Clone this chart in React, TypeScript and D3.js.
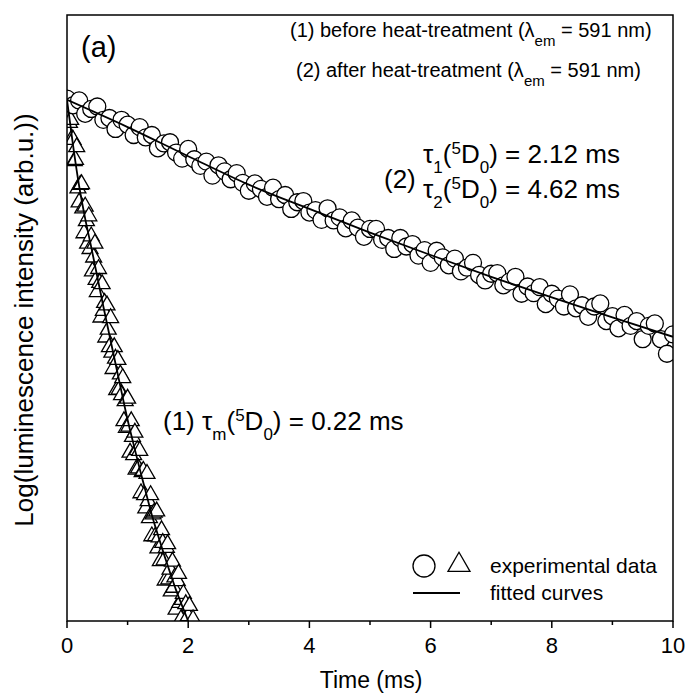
import React from 'react';
import * as d3 from 'd3';

const W = 686;
const H = 695;
const plot = { left: 67, right: 673, top: 15, bottom: 621 };

const xTicks = [0, 2, 4, 6, 8, 10];
const xMinorTicks = [1, 3, 5, 7, 9];

// (2) after heat-treatment, circles: time (ms), log intensity (arb.)
const afterTime = [
  0, 0.1, 0.2, 0.3, 0.4, 0.5, 0.6, 0.7, 0.8, 0.9,
  1, 1.1, 1.2, 1.3, 1.4, 1.5, 1.6, 1.7, 1.8, 1.9,
  2, 2.1, 2.2, 2.3, 2.4, 2.5, 2.6, 2.7, 2.8, 2.9,
  3, 3.1, 3.2, 3.3, 3.4, 3.5, 3.6, 3.7, 3.8, 3.9,
  4, 4.1, 4.2, 4.3, 4.4, 4.5, 4.6, 4.7, 4.8, 4.9,
  5, 5.1, 5.2, 5.3, 5.4, 5.5, 5.6, 5.7, 5.8, 5.9,
  6, 6.1, 6.2, 6.3, 6.4, 6.5, 6.6, 6.7, 6.8, 6.9,
  7, 7.1, 7.2, 7.3, 7.4, 7.5, 7.6, 7.7, 7.8, 7.9,
  8, 8.1, 8.2, 8.3, 8.4, 8.5, 8.6, 8.7, 8.8, 8.9,
  9, 9.1, 9.2, 9.3, 9.4, 9.5, 9.6, 9.7, 9.8, 9.9, 10,
];
const afterLog = [
  86.2, 85.1, 85.9, 83.7, 84.5, 84.9, 82.7, 83.0, 81.2, 82.7,
  81.9, 80.2, 81.5, 79.8, 80.2, 78.0, 78.8, 79.0, 77.3, 76.3,
  77.9, 76.2, 75.1, 75.8, 73.5, 75.2, 74.2, 72.9, 73.9, 72.3,
  71.0, 72.2, 71.3, 70.0, 71.5, 69.6, 70.3, 68.0, 69.1, 69.3,
  67.4, 67.8, 66.2, 68.1, 66.1, 66.6, 64.8, 66.1, 64.9, 63.4,
  64.7, 64.7, 62.9, 63.2, 61.4, 63.2, 61.8, 62.2, 60.3, 61.2,
  59.1, 61.1, 60.0, 58.7, 59.8, 57.7, 58.3, 59.1, 57.1, 56.2,
  57.3, 57.4, 55.4, 56.0, 56.8, 54.0, 55.2, 54.1, 55.1, 52.3,
  54.0, 53.2, 51.9, 53.9, 51.6, 52.1, 50.2, 51.9, 52.4, 49.5,
  50.3, 48.3, 50.5, 48.7, 49.5, 46.5, 48.7, 49.1, 46.5, 44.1, 47.3,
];
const afterFitTime = [0, 1, 2, 3, 4, 5, 6, 7, 8, 9, 10];
const afterFitLog = [86.0, 81.5, 76.7, 72.0, 68.0, 64.1, 60.4, 56.8, 53.4, 50.1, 46.9];

// (1) before heat-treatment, triangles
const beforeTime = [
  0, 0.02, 0.04, 0.06, 0.08, 0.1, 0.12, 0.14, 0.16, 0.18,
  0.2, 0.22, 0.24, 0.26, 0.28, 0.3, 0.32, 0.34, 0.36, 0.38,
  0.4, 0.42, 0.44, 0.46, 0.48, 0.5, 0.52, 0.54, 0.56, 0.58,
  0.6, 0.62, 0.64, 0.66, 0.68, 0.7, 0.72, 0.74, 0.76, 0.78,
  0.8, 0.82, 0.84, 0.86, 0.88, 0.9, 0.92, 0.94, 0.96, 0.98,
  1, 1.02, 1.04, 1.06, 1.08, 1.1, 1.12, 1.14, 1.16, 1.18,
  1.2, 1.22, 1.24, 1.26, 1.28, 1.3, 1.32, 1.34, 1.36, 1.38,
  1.4, 1.42, 1.44, 1.46, 1.48, 1.5, 1.52, 1.54, 1.56, 1.58,
  1.6, 1.62, 1.64, 1.66, 1.68, 1.7, 1.72, 1.74, 1.76, 1.78,
  1.8, 1.82, 1.84, 1.86, 1.88, 1.9, 1.92, 1.94, 1.96, 1.98,
  2, 2.02, 2.04, 2.06, 2.08, 2.1,
];
const beforeLog = [
  86.0, 85.1, 82.2, 82.7, 79.6, 79.4, 75.9, 76.1, 78.2, 71.4,
  69.1, 72.0, 72.1, 68.1, 64.0, 68.4, 66.0, 62.3, 66.8, 61.4,
  63.5, 57.7, 60.0, 62.3, 56.3, 54.3, 58.1, 55.8, 50.1, 55.6,
  51.2, 52.5, 46.8, 52.1, 48.1, 45.2, 50.0, 44.3, 41.6, 45.2,
  43.3, 38.1, 43.1, 38.2, 40.7, 37.3, 40.1, 33.0, 36.3, 31.9,
  36.7, 32.1, 27.8, 33.0, 30.4, 27.4, 31.1, 25.0, 28.2, 25.2,
  28.1, 21.1, 24.6, 24.8, 20.8, 18.6, 24.3, 19.8, 17.0, 20.8,
  14.0, 17.6, 17.9, 14.0, 18.1, 12.0, 13.8, 9.9, 15.0, 12.9,
  10.0, 6.7, 12.1, 12.7, 6.9, 8.5, 4.9, 9.8, 5.5, 7.2,
  1.9, 6.6, 7.8, 3.0, 0.3, 3.5, 4.5, -0.5, 2.8, -3.0,
  0.8, 2.5, -2.2, -3.9, 0.3, -3.9,
];
const beforeFitTime = [
  0, 0.1, 0.2, 0.3, 0.4, 0.5, 0.6, 0.7, 0.8, 0.9, 1,
  1.1, 1.2, 1.3, 1.4, 1.5, 1.6, 1.7, 1.8, 1.9, 2, 2.1,
];
const beforeFitLog = [
  86.0, 78.5, 71.8, 66.4, 61.7, 56.8, 51.9, 47.2, 42.5, 37.8, 33.2,
  29.1, 25.1, 21.3, 17.5, 14.2, 11.0, 8.0, 5.1, 2.5, 0.0, -2.4,
];

const FONT = "Arial, 'Liberation Sans', sans-serif";

const App = () => {
  const x = d3.scaleLinear().domain([0, 10]).range([plot.left, plot.right]);
  const y = d3.scaleLinear().domain([0, 100]).range([plot.bottom, plot.top]);

  const line = d3
    .line<[number, number]>()
    .x(d => x(d[0]))
    .y(d => y(d[1]))
    .curve(d3.curveMonotoneX);

  const afterPts: [number, number][] = afterTime.map((t, i) => [t, afterLog[i]]);
  const beforePts: [number, number][] = beforeTime.map((t, i) => [t, beforeLog[i]]);
  const afterFit: [number, number][] = afterFitTime.map((t, i) => [t, afterFitLog[i]]);
  const beforeFit: [number, number][] = beforeFitTime.map((t, i) => [t, beforeFitLog[i]]);

  const tri = d3.symbol().type(d3.symbolTriangle).size(110)();
  const triLegend = d3.symbol().type(d3.symbolTriangle).size(210)();

  return (
    <div style={{ position: 'absolute', left: 0, top: 0 }}>
      <svg width={W} height={H} style={{ display: 'block', background: '#fff' }} fontFamily={FONT}>
        <defs>
          <clipPath id="plotClip">
            <rect x={plot.left} y={plot.top} width={plot.right - plot.left} height={plot.bottom - plot.top} />
          </clipPath>
        </defs>

        <g clipPath="url(#plotClip)">
          {beforePts.map((d, i) => (
            <path key={'t' + i} d={tri!} transform={`translate(${x(d[0])},${y(d[1])})`}
              fill="#fff" stroke="#000" strokeWidth={1.3} />
          ))}
          {afterPts.map((d, i) => (
            <circle key={'c' + i} cx={x(d[0])} cy={y(d[1])} r={8.5}
              fill="#fff" stroke="#000" strokeWidth={1.3} />
          ))}
          <path d={line(beforeFit)!} fill="none" stroke="#000" strokeWidth={1.8} />
          <path d={line(afterFit)!} fill="none" stroke="#000" strokeWidth={1.8} />
        </g>

        {/* frame */}
        <rect x={plot.left} y={plot.top} width={plot.right - plot.left} height={plot.bottom - plot.top}
          fill="none" stroke="#000" strokeWidth={1.5} />

        {/* bottom ticks */}
        {xTicks.map(t => (
          <g key={'xt' + t}>
            <line x1={x(t)} x2={x(t)} y1={plot.bottom} y2={plot.bottom + 7} stroke="#000" strokeWidth={1.5} />
            <text x={x(t)} y={653} textAnchor="middle" fontSize={22}>{t}</text>
          </g>
        ))}
        {xMinorTicks.map(t => (
          <line key={'xm' + t} x1={x(t)} x2={x(t)} y1={plot.bottom} y2={plot.bottom + 4} stroke="#000" strokeWidth={1.5} />
        ))}

        <text x={371} y={688} textAnchor="middle" fontSize={23}>Time (ms)</text>
        <text transform="translate(33,320) rotate(-90)" textAnchor="middle" fontSize={26}>
          Log(luminescence intensity (arb.u.))
        </text>

        <text x={81} y={57} fontSize={29}>(a)</text>

        <text x={290} y={37} fontSize={20}>
          (1) before heat-treatment (λ<tspan baselineShift="sub" fontSize={15}>em</tspan> = 591 nm)
        </text>
        <text x={296} y={77} fontSize={20}>
          (2) after heat-treatment (λ<tspan baselineShift="sub" fontSize={15}>em</tspan> = 591 nm)
        </text>

        <text x={384} y={188} fontSize={26}>(2)</text>
        <text x={423} y={163} fontSize={26}>
          τ<tspan baselineShift="sub" fontSize={17}>1</tspan>(<tspan baselineShift="super" fontSize={17}>5</tspan>D<tspan baselineShift="sub" fontSize={17}>0</tspan>) = 2.12 ms
        </text>
        <text x={423} y={198} fontSize={26}>
          τ<tspan baselineShift="sub" fontSize={17}>2</tspan>(<tspan baselineShift="super" fontSize={17}>5</tspan>D<tspan baselineShift="sub" fontSize={17}>0</tspan>) = 4.62 ms
        </text>

        <text x={163} y={430} fontSize={26}>
          (1) τ<tspan baselineShift="sub" fontSize={17}>m</tspan>(<tspan baselineShift="super" fontSize={17}>5</tspan>D<tspan baselineShift="sub" fontSize={17}>0</tspan>) = 0.22 ms
        </text>

        {/* legend */}
        <circle cx={424} cy={566} r={11} fill="#fff" stroke="#000" strokeWidth={1.3} />
        <path d={triLegend!} transform="translate(459,565)" fill="#fff" stroke="#000" strokeWidth={1.3} />
        <text x={490} y={573} fontSize={21}>experimental data</text>
        <line x1={413} x2={460} y1={593} y2={593} stroke="#000" strokeWidth={2} />
        <text x={490} y={600} fontSize={21}>fitted curves</text>
      </svg>
    </div>
  );
};

export default App;
